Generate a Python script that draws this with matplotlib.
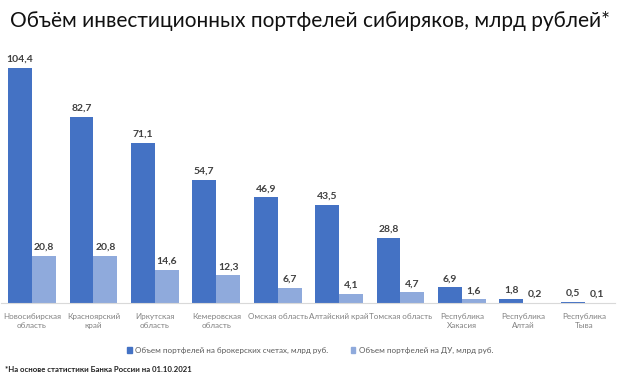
import numpy as np
import matplotlib.pyplot as plt
from matplotlib.patches import Patch

regions = [
    "Новосибирская\nобласть", "Красноярский\nкрай", "Иркутская\nобласть",
    "Кемеровская\nобласть", "Омская область", "Алтайский край",
    "Томская область", "Республика\nХакасия", "Республика\nАлтай",
    "Республика\nТыва",
]
broker = [104.4, 82.7, 71.1, 54.7, 46.9, 43.5, 28.8, 6.9, 1.8, 0.5]
du = [20.8, 20.8, 14.6, 12.3, 6.7, 4.1, 4.7, 1.6, 0.2, 0.1]
series_names = [
    "Объем портфелей на брокерских счетах, млрд руб.",
    "Объем портфелей на ДУ, млрд руб.",
]

DARK = "#4472C4"
LIGHT = "#8FAADC"
FONT = "Lato"


def fmt(v):
    return f"{v:.1f}".replace(".", ",")


def main():
    fig = plt.figure(figsize=(6.2, 3.85), dpi=100)
    ax = fig.add_axes([1.35 / 620, 82 / 385, 614 / 620, 259 / 385])

    x = np.arange(len(regions))
    w = 0.39
    b1 = ax.bar(x - w / 2, broker, w, color=DARK)
    b2 = ax.bar(x + w / 2, du, w, color=LIGHT)

    for bars, vals in ((b1, broker), (b2, du)):
        for rect, v in zip(bars, vals):
            ax.text(rect.get_x() + rect.get_width() / 2, v + 1.8, fmt(v),
                    ha="center", va="bottom", fontsize=7.5,
                    fontweight="bold", color="#404040", family=FONT)

    ax.set_xlim(-0.5, len(regions) - 0.5)
    ax.set_ylim(0, 115)
    ax.set_yticks([])
    ax.set_xticks(x)
    ax.set_xticklabels(regions, fontsize=5.8, color="#808080", family=FONT,
                       linespacing=1.45)
    ax.tick_params(axis="x", length=0, pad=7)
    for side in ("top", "right", "left"):
        ax.spines[side].set_visible(False)
    ax.spines["bottom"].set_color("#d9d9d9")

    fig.text(0.5, 0.945, "Объём инвестиционных портфелей сибиряков, млрд рублей*",
             ha="center", va="center", fontsize=15, color="#111111",
             family=FONT)

    handles = [Patch(color=DARK), Patch(color=LIGHT)]
    fig.legend(handles, series_names, loc="center", bbox_to_anchor=(0.5, 0.09),
               ncol=2, frameon=False, handlelength=0.6, handleheight=0.6,
               handletextpad=0.4, columnspacing=2.8,
               prop={"family": FONT, "size": 5.8}, labelcolor="#595959")

    fig.text(5 / 620, 1 - 370 / 385, "*На основе статистики Банка России на 01.10.2021",
             ha="left", va="center", fontsize=5.6, fontweight="bold",
             color="#222222", family=FONT)

    fig.savefig("out.png", dpi=100, facecolor="white")


if __name__ == "__main__":
    main()
